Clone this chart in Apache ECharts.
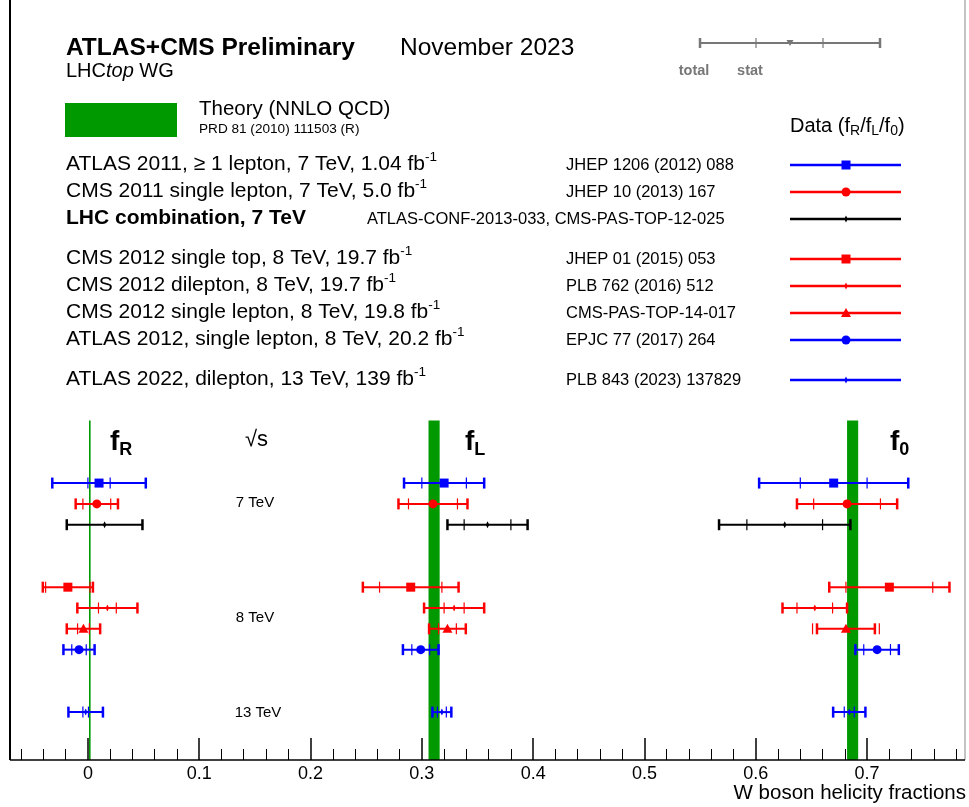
<!DOCTYPE html>
<html><head><meta charset="utf-8">
<script src="https://cdn.jsdelivr.net/npm/echarts@6/dist/echarts.min.js"></script>
<style>html,body{margin:0;padding:0;background:#fff}#c{width:969px;height:807px}</style>
</head><body><div id="c"></div>
<script>
// ---------------- data ----------------
const rowLabels = [
  'ATLAS 2011, \u2265 1 lepton, 7 TeV, 1.04 fb',
  'CMS 2011 single lepton, 7 TeV, 5.0 fb',
  'LHC combination, 7 TeV',
  'CMS 2012 single top, 8 TeV, 19.7 fb',
  'CMS 2012 dilepton, 8 TeV, 19.7 fb',
  'CMS 2012 single lepton, 8 TeV, 19.8 fb',
  'ATLAS 2012, single lepton, 8 TeV, 20.2 fb',
  'ATLAS 2022, dilepton, 13 TeV, 139 fb'
];
const rowSup = ['-1','-1','','-1','-1','-1','-1','-1'];
const rowRefs = [
  'JHEP 1206 (2012) 088',
  'JHEP 10 (2013) 167',
  'ATLAS-CONF-2013-033, CMS-PAS-TOP-12-025',
  'JHEP 01 (2015) 053',
  'PLB 762 (2016) 512',
  'CMS-PAS-TOP-14-017',
  'EPJC 77 (2017) 264',
  'PLB 843 (2023) 137829'
];
const rowSlots   = [0, 1, 2, 5, 6, 7, 8, 11];
const rowColors  = ['#0000ff','#ff0000','#000000','#ff0000','#ff0000','#ff0000','#0000ff','#0000ff'];
const rowMarkers = ['square','circle','dot','square','dot','triangle','circle','dot'];

const fR     = [0.010, 0.008, 0.015, -0.018, 0.0175, -0.004, -0.008, -0.002];
const fRStat = [0.010, 0.0125, null, 0.020, 0.008, 0.0053, 0.0065, 0.0025];
const fRTot  = [0.042, 0.019, 0.034, 0.0225, 0.027, 0.015, 0.014, 0.0155];

const fL     = [0.320, 0.310, 0.359, 0.290, 0.329, 0.323, 0.299, 0.318];
const fLStat = [0.020, 0.022, 0.021, 0.028, 0.009, 0.008, 0.008, 0.004];
const fLTot  = [0.036, 0.031, 0.036, 0.043, 0.027, 0.0165, 0.016, 0.0085];

const f0     = [0.670, 0.682, 0.626, 0.720, 0.653, 0.681, 0.709, 0.684];
const f0Stat = [0.030, 0.030, 0.034, 0.039, 0.016, 0.030, 0.012, 0.0045];
const f0Tot  = [0.067, 0.045, 0.059, 0.054, 0.029, 0.026, 0.0195, 0.0145];

const theoryValues = [0.0017, 0.311, 0.687];
const theoryErrors = [0.0001, 0.005, 0.005];

const energyLabels = ['7 TeV', '8 TeV', '13 TeV'];
const xAxisTitle = 'W boson helicity fractions';

// ---------------- layout ----------------
const FONT = '"Liberation Sans", Arial, Helvetica, sans-serif';
const labelY = [165, 192, 219, 259, 286, 313, 340, 380];
const energyY = [503, 618, 713];
const energyX = [255, 255, 258];
const BAND_TOP_SLOT = -3;
const Y_MIN = -23.2, Y_MAX = 13.3;

function markerEl(type, x, y, color) {
  switch (type) {
    case 'square': return {type:'rect', shape:{x:x-4.5,y:y-4.5,width:9,height:9}, style:{fill:color}};
    case 'circle': return {type:'circle', shape:{cx:x,cy:y,r:4.5}, style:{fill:color}};
    case 'triangle': return {type:'polygon', shape:{points:[[x,y-5],[x+5,y+4],[x-5,y+4]]}, style:{fill:color}};
    case 'tridown': return {type:'polygon', shape:{points:[[x-3.5,y-3],[x+3.5,y-3],[x,y+3]]}, style:{fill:color}};
    default: return {type:'polygon', shape:{points:[[x,y-3.5],[x+1.7,y],[x,y+3.5],[x-1.7,y]]}, style:{fill:color}};
  }
}

// data for custom series
const columns = [[fR,fRStat,fRTot],[fL,fLStat,fLTot],[f0,f0Stat,f0Tot]];
const pointData = [];
columns.forEach(([v, s, t]) => {
  v.forEach((val, i) => pointData.push([val, rowSlots[i], s[i] == null ? 0 : s[i], t[i], i]));
});
const theoryData = theoryValues.map((v, i) => [v, theoryErrors[i]]);

function renderPoint(params, api) {
  const v = api.value(0), slot = api.value(1), st = api.value(2), tot = api.value(3), i = api.value(4);
  const color = rowColors[i];
  const p = api.coord([v, slot]);
  const lo = api.coord([v - tot, slot]);
  const hi = api.coord([v + tot, slot]);
  const h = 5.5;
  const ch = [
    {type:'line', shape:{x1:lo[0],y1:p[1],x2:hi[0],y2:p[1]}, style:{stroke:color,lineWidth:2}},
    {type:'line', shape:{x1:lo[0],y1:p[1]-h,x2:lo[0],y2:p[1]+h}, style:{stroke:color,lineWidth:2.5}},
    {type:'line', shape:{x1:hi[0],y1:p[1]-h,x2:hi[0],y2:p[1]+h}, style:{stroke:color,lineWidth:2.5}}
  ];
  if (st) {
    const sl = api.coord([v - st, slot]), sh = api.coord([v + st, slot]);
    ch.push({type:'line', shape:{x1:sl[0],y1:p[1]-h,x2:sl[0],y2:p[1]+h}, style:{stroke:color,lineWidth:1.2}});
    ch.push({type:'line', shape:{x1:sh[0],y1:p[1]-h,x2:sh[0],y2:p[1]+h}, style:{stroke:color,lineWidth:1.2}});
  }
  ch.push(markerEl(rowMarkers[i], p[0], p[1], color));
  return {type:'group', children: ch};
}

function renderBand(params, api) {
  const v = api.value(0), e = api.value(1);
  const a = api.coord([v - e, BAND_TOP_SLOT]);
  const b = api.coord([v + e, Y_MAX]);
  let w = b[0] - a[0];
  let x = a[0];
  if (w < 1.6) { x = (a[0] + b[0]) / 2 - 0.8; w = 1.6; }
  return {type:'rect', shape:{x:x, y:a[1], width:w, height:b[1]-a[1]}, style:{fill:'#009a00'}};
}

// ---------------- graphics (text / legend) ----------------
const G = [];
function txt(text, x, y, opts) {
  G.push({type:'text', z:10, style:Object.assign({text:text, x:x, y:y, fontFamily:FONT, fontSize:20, fill:'#000', align:'left', verticalAlign:'middle'}, opts||{})});
}
// header
txt('ATLAS+CMS Preliminary', 66, 48, {fontSize:24.5, fontWeight:'bold'});
txt('November 2023', 400, 48, {fontSize:24.5});
txt('{a|LHC}{i|top}{a| WG}', 66, 71, {rich:{a:{fontFamily:FONT,fontSize:20},i:{fontFamily:FONT,fontSize:20,fontStyle:'italic'}}});
G.push({type:'rect', shape:{x:65,y:103,width:112,height:34}, style:{fill:'#009a00'}});
txt('Theory (NNLO QCD)', 199, 109, {fontSize:20.5});
txt('PRD 81 (2010) 111503 (R)', 199, 129, {fontSize:13.6});
// total / stat legend
const GR = '#777777';
G.push({type:'line', shape:{x1:700,y1:43,x2:880,y2:43}, style:{stroke:GR,lineWidth:2}});
[700,880].forEach(x => G.push({type:'line', shape:{x1:x,y1:38,x2:x,y2:48}, style:{stroke:GR,lineWidth:2.5}}));
[756,823].forEach(x => G.push({type:'line', shape:{x1:x,y1:38,x2:x,y2:48}, style:{stroke:GR,lineWidth:1.2}}));
G.push(markerEl('tridown', 790, 43, GR));
txt('total', 694, 71, {fontSize:14.5, fontWeight:'bold', fill:GR, align:'center'});
txt('stat', 750, 71, {fontSize:14.5, fontWeight:'bold', fill:GR, align:'center'});
txt('{m|Data (f}{s|R}{m|/f}{s|L}{m|/f}{s|0}{m|)}', 790, 126, {rich:{
  m:{fontFamily:FONT,fontSize:20,lineHeight:24},
  s:{fontFamily:FONT,fontSize:14,lineHeight:12,verticalAlign:'bottom'}}});
// rows
rowLabels.forEach((lab, i) => {
  const bold = i === 2;
  const rich = {
    m:{fontFamily:FONT,fontSize:21,lineHeight:27,fontWeight:bold?'bold':'normal'},
    s:{fontFamily:FONT,fontSize:13.5,lineHeight:12,verticalAlign:'top'}
  };
  txt('{m|' + lab + '}' + (rowSup[i] ? '{s|' + rowSup[i] + '}' : ''), 66, labelY[i] - 1, {rich:rich});
  txt(rowRefs[i], i === 2 ? 367 : 566, labelY[i], {fontSize:16.5});
  G.push({type:'line', shape:{x1:790,y1:labelY[i],x2:901,y2:labelY[i]}, style:{stroke:rowColors[i],lineWidth:2.5}});
  G.push(markerEl(rowMarkers[i], 846, labelY[i], rowColors[i]));
});
// plot annotations
const subRich = {m:{fontFamily:FONT,fontSize:28,fontWeight:'bold',lineHeight:34},
                 s:{fontFamily:FONT,fontSize:18,fontWeight:'bold',lineHeight:14,verticalAlign:'bottom'}};
txt('{m|f}{s|R}', 110, 442, {rich:subRich});
txt('{m|f}{s|L}', 465, 442, {rich:subRich});
txt('{m|f}{s|0}', 890, 442, {rich:subRich});
txt('\u221As', 245, 440, {fontSize:22});
energyLabels.forEach((e, i) => txt(e, energyX[i], energyY[i], {fontSize:15, align:'center'}));
txt(xAxisTitle, 966, 793, {fontSize:20.5, align:'right'});
// frame
G.push({type:'line', z:5, shape:{x1:10,y1:0,x2:10,y2:760}, style:{stroke:'#000',lineWidth:2}});
G.push({type:'line', z:5, shape:{x1:965,y1:0,x2:965,y2:760}, style:{stroke:'#888',lineWidth:1}});
G.push({type:'line', z:5, shape:{x1:10,y1:760,x2:965,y2:760}, style:{stroke:'#000',lineWidth:1.5}});

const chart = echarts.init(document.getElementById('c'), null, {renderer:'canvas'});
chart.setOption({
  animation: false,
  backgroundColor: '#fff',
  grid: {left: -23.4, right: -9.4, top: 0, bottom: 47, outerBoundsMode: 'none', containLabel: false},
  xAxis: {
    type: 'value', min: -0.1, max: 0.8, interval: 0.1, position: 'bottom',
    axisLine: {show: false, onZero: false},
    axisTick: {inside: true, length: 22, lineStyle: {color: '#000', width: 1.5}},
    minorTick: {show: true, splitNumber: 5, length: 11, lineStyle: {color: '#000', width: 1}},
    splitLine: {show: false},
    axisLabel: {showMinLabel: false, showMaxLabel: false, fontSize: 18, color: '#000', fontFamily: FONT, margin: 5}
  },
  yAxis: {type: 'value', inverse: true, min: Y_MIN, max: Y_MAX, show: false},
  series: [
    {type: 'custom', renderItem: renderBand, data: theoryData, encode: {x: 0}, z: 1, silent: true},
    {type: 'custom', renderItem: renderPoint, data: pointData, encode: {x: 0, y: 1}, z: 3, silent: true}
  ],
  graphic: {elements: G}
});
</script></body></html>
